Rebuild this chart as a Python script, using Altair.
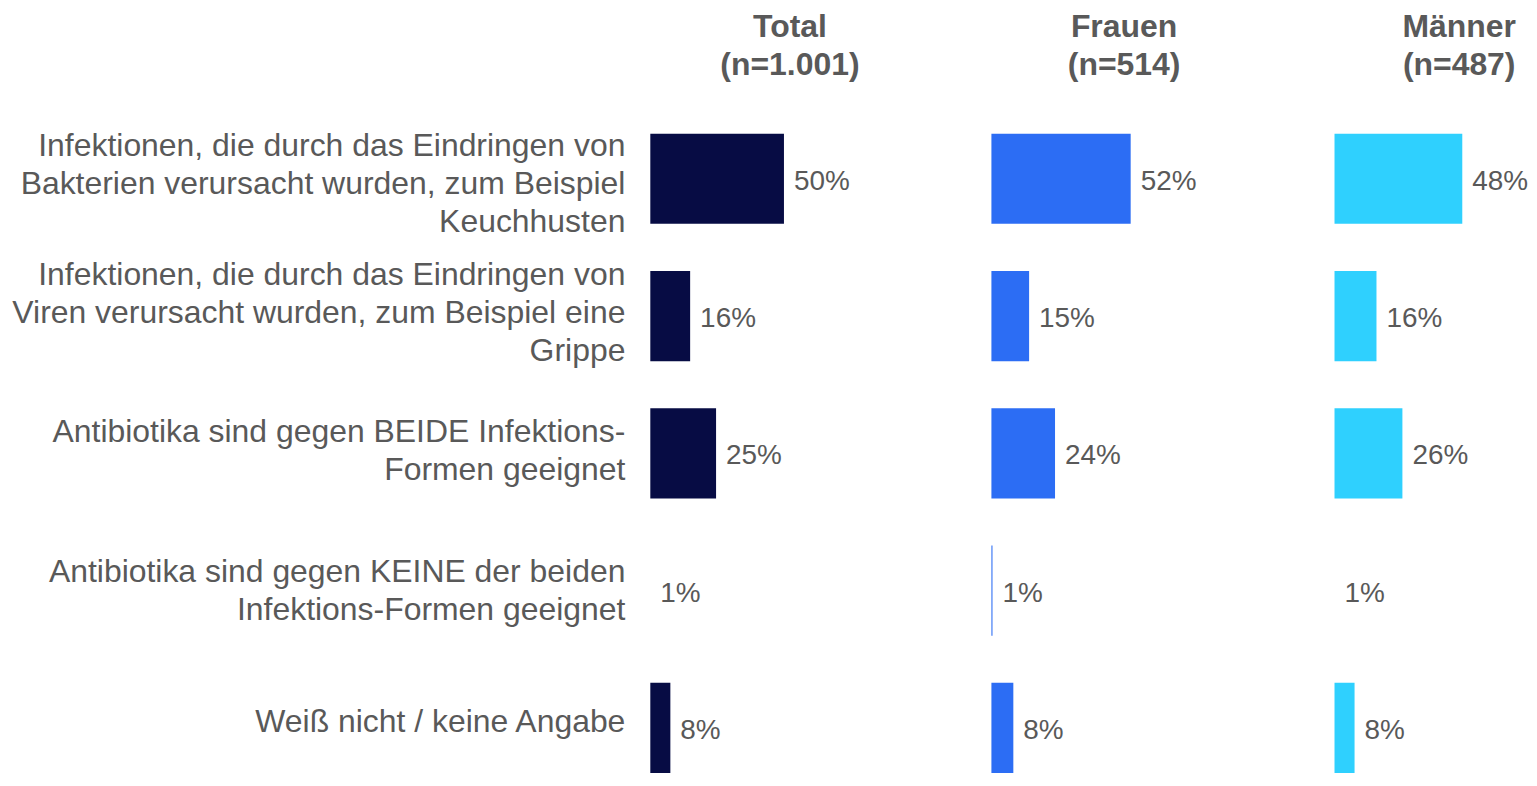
import altair as alt
import pandas as pd

# Categories (line breaks marked with "|")
categories = [
    "Infektionen, die durch das Eindringen von|Bakterien verursacht wurden, zum Beispiel|Keuchhusten",
    "Infektionen, die durch das Eindringen von|Viren verursacht wurden, zum Beispiel eine|Grippe",
    "Antibiotika sind gegen BEIDE Infektions-|Formen geeignet",
    "Antibiotika sind gegen KEINE der beiden|Infektions-Formen geeignet",
    "Weiß nicht / keine Angabe",
]

# Bar lengths (percent)
total_values = [50.0, 14.9, 24.6, 0.0, 7.5]
frauen_values = [52.1, 14.1, 23.8, 0.4, 8.2]
maenner_values = [47.8, 15.7, 25.4, 0.0, 7.5]

# Printed labels
total_labels = ["50%", "16%", "25%", "1%", "8%"]
frauen_labels = ["52%", "15%", "24%", "1%", "8%"]
maenner_labels = ["48%", "16%", "26%", "1%", "8%"]

titles = ["Total|(n=1.001)", "Frauen|(n=514)", "Männer|(n=487)"]
colors = ["#070c44", "#2c6df4", "#2fd0fe"]

FONT = "Liberation Sans"
GREY = "#595959"
PX_PER_PCT = 2.68
PLOT_H = 641
LINE_H = 38
LABEL_DY = [-33, -41, -21, -19, -6]   # vertical nudge of each category label block


def panel(values, labels, color, title, width, title_x, first):
    df = pd.DataFrame({"cat": categories, "v": values, "lab": labels})
    y = alt.Y("cat:N", sort=categories,
              scale=alt.Scale(paddingInner=0.343, paddingOuter=0), axis=None)
    x = alt.X("v:Q", scale=alt.Scale(domain=[0, width / PX_PER_PCT], nice=False), axis=None)
    base = alt.Chart(df)
    bars = base.mark_bar(color=color).encode(x=x, y=y)
    text = base.mark_text(align="left", baseline="middle", dx=10, dy=3, fontSize=28,
                          color=GREY, font=FONT).encode(x=x, y=y, text="lab:N")
    header = alt.Chart(pd.DataFrame({"t": [title]})).mark_text(
        align="center", baseline="top", lineBreak="|", lineHeight=LINE_H,
        fontSize=32, fontWeight="bold", color=GREY, font=FONT,
    ).encode(x=alt.value(title_x), y=alt.value(-122), text="t:N")
    layers = [bars, text, header]
    if first:
        for i, dy in enumerate(LABEL_DY):
            layers.append(
                alt.Chart(df.iloc[[i]]).mark_text(
                    align="right", baseline="middle", lineBreak="|",
                    lineHeight=LINE_H, fontSize=32, color=GREY, font=FONT, dy=dy,
                ).encode(x=alt.value(-25), y=y, text="cat:N")
            )
    return alt.layer(*layers).properties(width=width, height=PLOT_H)


p1 = panel(total_values, total_labels, colors[0], titles[0], 249, 140, True)
p2 = panel(frauen_values, frauen_labels, colors[1], titles[1], 251, 133, False)
p3 = panel(maenner_values, maenner_labels, colors[2], titles[2], 185, 125, False)

chart = alt.hconcat(p1, p2, p3, spacing=93).properties(
    padding={"left": 4, "top": 2, "right": 0, "bottom": 0}
).configure_view(stroke=None)

chart.save("out.html", embed_options={"renderer": "svg", "actions": False})
